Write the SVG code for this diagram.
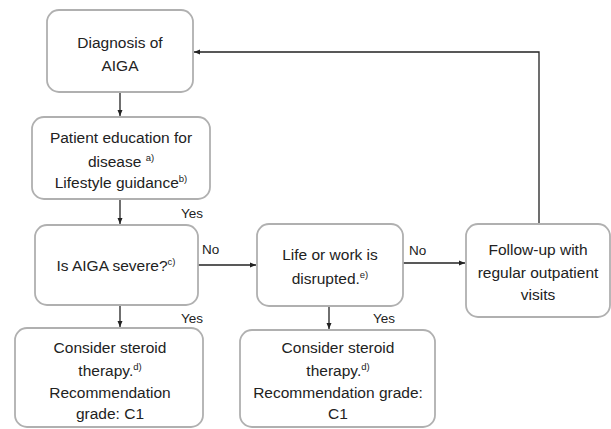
<svg xmlns="http://www.w3.org/2000/svg" width="611" height="429" viewBox="0 0 611 429">
<defs>
<marker id="ah" markerWidth="6" markerHeight="6" refX="6" refY="3" orient="auto" markerUnits="userSpaceOnUse">
<path d="M0,0.5 L6,3 L0,5.5 Z" fill="#222"/>
</marker>
<style>
.box{fill:#fff;stroke:#b0b0b0;stroke-width:1.8}
.t{font-family:"Liberation Sans",Arial,sans-serif;font-size:15.5px;fill:#222;text-anchor:middle}
.l{font-family:"Liberation Sans",Arial,sans-serif;font-size:13.5px;fill:#222}
.sup{font-size:9.5px}
.c{fill:none;stroke:#222;stroke-width:1.3}
</style>
</defs>
<rect width="611" height="429" fill="#fff"/>
<g id="connectors">
<path class="c" d="M120,92 V116" marker-end="url(#ah)"/>
<path class="c" d="M120,199 V224" marker-end="url(#ah)"/>
<path class="c" d="M198,265 H256" marker-end="url(#ah)"/>
<path class="c" d="M403,263 H465" marker-end="url(#ah)"/>
<path class="c" d="M539,224 V52 H194" marker-end="url(#ah)"/>
<path class="c" d="M120,305 V327" marker-end="url(#ah)"/>
<path class="c" d="M329,306 V329" marker-end="url(#ah)"/>
<text class="l" x="181" y="218">Yes</text>
<text class="l" x="202" y="254">No</text>
<text class="l" x="409" y="255">No</text>
<text class="l" x="181" y="323">Yes</text>
<text class="l" x="373" y="323">Yes</text>
</g>
<g id="n1">
<rect class="box" x="47" y="10" width="146" height="82" rx="12"/>
<text class="t" x="120" y="48">Diagnosis of</text>
<text class="t" x="120" y="71">AIGA</text>
</g>
<g id="n2">
<rect class="box" x="32" y="117" width="178" height="82" rx="12"/>
<text class="t" x="121" y="143">Patient education for</text>
<text class="t" x="121" y="167">disease <tspan class="sup" dy="-6">a)</tspan></text>
<text class="t" x="121" y="188">Lifestyle guidance<tspan class="sup" dy="-6">b)</tspan></text>
</g>
<g id="n3">
<rect class="box" x="35" y="225" width="163" height="80" rx="12"/>
<text class="t" x="116" y="271">Is AIGA severe?<tspan class="sup" dy="-6">c)</tspan></text>
</g>
<g id="n4">
<rect class="box" x="257" y="224" width="146" height="82" rx="12"/>
<text class="t" x="330" y="260">Life or work is</text>
<text class="t" x="330" y="284">disrupted.<tspan class="sup" dy="-6">e)</tspan></text>
</g>
<g id="n5">
<rect class="box" x="466" y="224" width="144" height="93" rx="12"/>
<text class="t" x="538" y="255">Follow-up with</text>
<text class="t" x="538" y="278">regular outpatient</text>
<text class="t" x="538" y="300">visits</text>
</g>
<g id="n6">
<rect class="box" x="15" y="328" width="188" height="99" rx="12"/>
<text class="t" x="110" y="353">Consider steroid</text>
<text class="t" x="110" y="376">therapy.<tspan class="sup" dy="-6">d)</tspan></text>
<text class="t" x="110" y="398">Recommendation</text>
<text class="t" x="110" y="419">grade: C1</text>
</g>
<g id="n7">
<rect class="box" x="240" y="330" width="195" height="97" rx="12"/>
<text class="t" x="338" y="353">Consider steroid</text>
<text class="t" x="338" y="376">therapy.<tspan class="sup" dy="-6">d)</tspan></text>
<text class="t" x="338" y="398">Recommendation grade:</text>
<text class="t" x="338" y="419">C1</text>
</g>
</svg>
